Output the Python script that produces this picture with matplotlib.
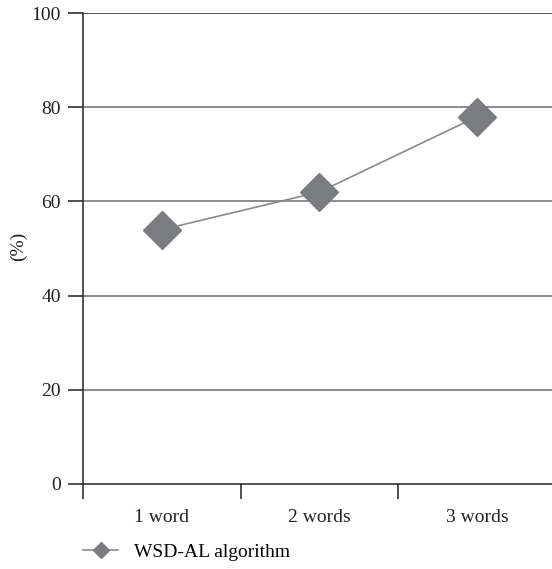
import matplotlib.pyplot as plt
from matplotlib.lines import Line2D

categories = ["1 word", "2 words", "3 words"]
values = [54, 62, 78]
yticks = [0, 20, 40, 60, 80, 100]

plt.rcParams['font.family'] = ['Liberation Serif', 'DejaVu Serif']

fig = plt.figure(figsize=(5.52, 5.69), dpi=100)
ax = fig.add_axes([83 / 552, 1 - 484 / 569, 1 - 83 / 552, (484 - 13) / 569])

x = list(range(len(categories)))
ax.plot(x, values, color="#8a8a8a", lw=1.2, marker="D", markersize=19,
        markerfacecolor="#7b7c80", markeredgecolor="#7b7c80", zorder=3)

ax.set_ylim(0, 100)
ax.set_xlim(-0.5, 2.475)
ax.set_yticks(yticks)
ax.set_yticklabels([str(t) for t in yticks], fontsize=14, color="#222222")
for t in yticks[1:-1]:
    ax.axhline(t, color="#6e6e6e", lw=1.1, zorder=1)
ax.axhline(100, color="#222222", lw=1.1, zorder=1)

ax.set_xticks([-0.5, 0.5, 1.5])
ax.set_xticklabels([])
ax.set_xticks(x, minor=True)
ax.set_xticklabels(categories, minor=True, fontsize=14, color="#222222")
ax.tick_params(axis="x", which="major", direction="out", length=11, width=1.1, color="#222222")
ax.tick_params(axis="x", which="minor", length=0, pad=18)
ax.tick_params(axis="y", direction="out", length=11, width=1.1, color="#222222", pad=5)

for s in ["top", "right"]:
    ax.spines[s].set_visible(False)
for s in ["left", "bottom"]:
    ax.spines[s].set_color("#222222")
    ax.spines[s].set_linewidth(1.1)

ax.set_ylabel("(%)", fontsize=14, color="#222222")
ax.yaxis.set_label_coords(-56 / 469, 0.5 + 2 / 471)

handle = Line2D([], [], color="#8a8a8a", lw=1.2, marker="D", markersize=8,
                markerfacecolor="#7b7c80", markeredgecolor="#7b7c80")
fig.legend([handle], ["WSD-AL algorithm"], loc="center left",
           bbox_to_anchor=(83 / 552, 1 - 552 / 569), frameon=False,
           fontsize=14, handlelength=1.8, handletextpad=0.8,
           borderpad=0, borderaxespad=0)

fig.savefig("out.png", dpi=100)
